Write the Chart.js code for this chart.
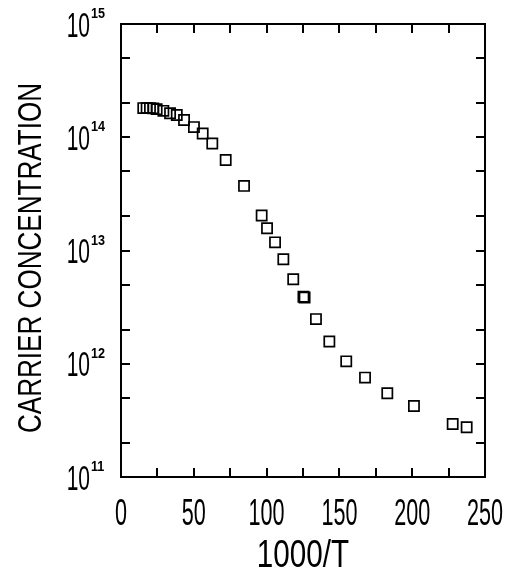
<!DOCTYPE html>
<html>
<head>
<meta charset="utf-8">
<script src="https://cdn.jsdelivr.net/npm/chart.js@4.4.1/dist/chart.umd.min.js"></script>
<style>
  html, body { margin: 0; padding: 0; background: #fff; }
  canvas { display: block; }
</style>
</head>
<body>
<canvas id="carrierChart" width="511" height="578"></canvas>
<script>
// Data
const invTemp = [15.3, 17.6, 19.9, 22.2, 24.5, 29.1, 33.7, 38.3, 43.3, 50.1, 56.1, 62.7, 71.9, 84.5,
    96.6, 100.3, 105.8, 111.5, 118.3, 125.3, 126.1, 133.9, 143.1, 154.7, 167.6, 182.9, 201.2, 227.8, 237.4];
const carrierConc = [1.81e14, 1.81e14, 1.81e14, 1.80e14, 1.77e14, 1.71e14, 1.63e14, 1.57e14, 1.42e14,
    1.23e14, 1.08e14, 8.8e13, 6.3e13, 3.72e13, 2.04e13, 1.57e13, 1.18e13, 8.36e12, 5.58e12, 3.9e12,
    3.85e12, 2.48e12, 1.57e12, 1.05e12, 7.55e11, 5.49e11, 4.24e11, 2.94e11, 2.75e11];

// Axis ticks
const xTickValues = [0, 25, 50, 75, 100, 125, 150, 175, 200, 225, 250];
const xLabelValues = [0, 50, 100, 150, 200, 250];
const yDecades = [11, 12, 13, 14, 15];
const yMinorMults = [2, 5];

const xTitle = '1000/T';
const yTitle = 'CARRIER CONCENTRATION';

// Draw condensed text
function drawText(ctx, text, x, y, font, sx, align) {
    ctx.save();
    ctx.translate(x, y);
    ctx.scale(sx, 1);
    ctx.font = font;
    ctx.textAlign = align;
    ctx.textBaseline = 'alphabetic';
    ctx.fillText(text, 0, 0);
    ctx.restore();
}

const framePlugin = {
    id: 'frame',
    afterDraw(chart) {
        const ctx = chart.ctx;
        const area = chart.chartArea;
        const xs = chart.scales.x;
        const ys = chart.scales.y;
        const tickLen = 9;

        ctx.save();
        ctx.strokeStyle = '#000';
        ctx.fillStyle = '#000';
        ctx.lineWidth = 2;
        ctx.strokeRect(area.left, area.top, area.right - area.left, area.bottom - area.top);

        // x ticks, bottom and top, pointing inward
        ctx.beginPath();
        xTickValues.forEach(v => {
            const px = Math.round(xs.getPixelForValue(v));
            ctx.moveTo(px, area.bottom);
            ctx.lineTo(px, area.bottom - tickLen);
            ctx.moveTo(px, area.top);
            ctx.lineTo(px, area.top + tickLen);
        });
        // y ticks, left and right
        const yTicks = [];
        yDecades.forEach(d => {
            yTicks.push(Math.pow(10, d));
            if (d < yDecades[yDecades.length - 1]) {
                yMinorMults.forEach(m => yTicks.push(m * Math.pow(10, d)));
            }
        });
        yTicks.forEach(v => {
            const py = Math.round(ys.getPixelForValue(v));
            ctx.moveTo(area.left, py);
            ctx.lineTo(area.left + tickLen, py);
            ctx.moveTo(area.right, py);
            ctx.lineTo(area.right - tickLen, py);
        });
        ctx.stroke();

        // x tick labels
        xLabelValues.forEach(v => {
            const px = xs.getPixelForValue(v);
            drawText(ctx, String(v), px, 525, '36px "Liberation Sans", Arial, sans-serif', 0.6, 'center');
        });

        // y tick labels: 10 with superscript exponent
        yDecades.forEach(d => {
            const py = ys.getPixelForValue(Math.pow(10, d));
            drawText(ctx, '10', 90, py + 12.5, '35px "Liberation Sans", Arial, sans-serif', 0.6, 'right');
            drawText(ctx, String(d), 91, py - 6, 'bold 14px "Liberation Sans", Arial, sans-serif', 0.9, 'left');
        });

        // axis titles
        drawText(ctx, xTitle, (area.left + area.right) / 2, 567, '39px "Liberation Sans", Arial, sans-serif', 0.76, 'center');

        ctx.translate(29, 258);
        ctx.rotate(-Math.PI / 2);
        drawText(ctx, yTitle, 0, 12, '33px "Liberation Sans", Arial, sans-serif', 0.79, 'center');
        ctx.restore();
    }
};

const points = invTemp.map((x, i) => ({ x: x, y: carrierConc[i] }));

new Chart(document.getElementById('carrierChart'), {
    type: 'scatter',
    data: {
        datasets: [{
            data: points,
            pointStyle: 'rect',
            pointRadius: 7.2,
            pointBorderWidth: 1.7,
            borderColor: '#000',
            backgroundColor: 'rgba(0,0,0,0)',
            showLine: false
        }]
    },
    options: {
        responsive: false,
        animation: false,
        layout: { padding: { left: 121, right: 26, top: 24, bottom: 101 } },
        plugins: {
            legend: { display: false },
            tooltip: { enabled: false }
        },
        scales: {
            x: { type: 'linear', min: 0, max: 250, display: false },
            y: { type: 'logarithmic', min: 1e11, max: 1e15, display: false }
        }
    },
    plugins: [framePlugin]
});
</script>
</body>
</html>
